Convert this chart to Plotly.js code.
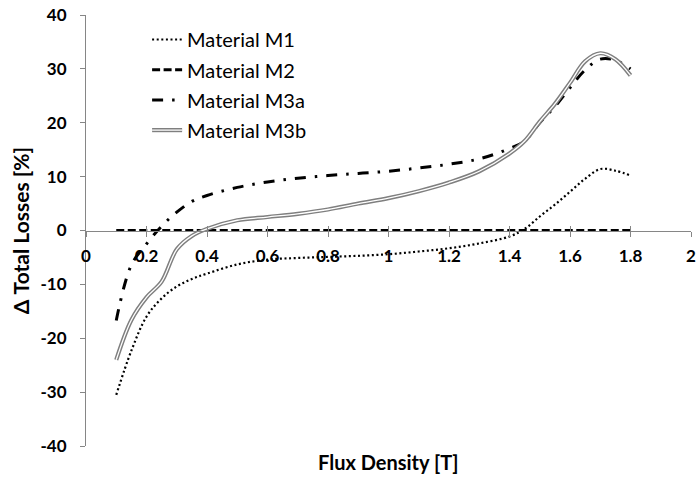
<!DOCTYPE html>
<html>
<head>
<meta charset="utf-8">
<script src="https://cdn.plot.ly/plotly-3.0.1.min.js"></script>
<style>html,body{margin:0;padding:0;background:#fff;}#chart{width:696px;height:477px;}</style>
</head>
<body>
<div id="chart"></div>
<script>
var fluxDensity = [0.1,0.15,0.2,0.25,0.3,0.35,0.4,0.5,0.6,0.7,0.8,0.9,1.0,1.1,1.2,1.3,1.4,1.45,1.5,1.55,1.6,1.65,1.7,1.75,1.8];
var materialM1  = [-30.5,-22.3,-16.0,-12.6,-10.4,-9.0,-8.0,-6.3,-5.4,-5.1,-4.9,-4.7,-4.4,-3.9,-3.3,-2.4,-1.1,0.3,2.6,4.8,7.2,9.6,11.4,11.1,10.2];
var materialM2  = [0,0,0,0,0,0,0,0,0,0,0,0,0,0,0,0,0,0,0,0,0,0,0,0,0];
var materialM3a = [-16.7,-6.4,-2.5,0.8,3.4,5.4,6.5,8.0,9.0,9.7,10.2,10.6,11.0,11.6,12.3,13.3,15.2,16.6,20.0,23.0,26.5,29.8,31.8,31.6,30.0];
var materialM3b = [-24.0,-16.6,-12.4,-9.5,-3.5,-1.0,0.3,1.9,2.5,3.1,3.9,5.0,6.0,7.3,8.9,11.0,14.3,16.6,20.2,23.5,27.4,31.4,32.9,31.8,28.8];
var seriesNames = ["Material M1","Material M2","Material M3a","Material M3b"];
var xTicks = [0,0.2,0.4,0.6,0.8,1,1.2,1.4,1.6,1.8,2];
var xTickText = ["0","0.2","0.4","0.6","0.8","1","1.2","1.4","1.6","1.8","2"];
var yTicks = [-40,-30,-20,-10,0,10,20,30,40];
var yTickText = ["-40","-30","-20","-10","0","10","20","30","40"];

var FONT = "Lato, 'Open Sans', sans-serif";
var sp = {shape:'spline', smoothing:1};

var traces = [
  {x:fluxDensity, y:materialM1, name:seriesNames[0], mode:'lines', legendgroup:'a',
   line:Object.assign({color:'#000', width:2.2, dash:'2px,2.6px'}, sp)},
  {x:fluxDensity, y:materialM2, name:seriesNames[1], mode:'lines', legendgroup:'b',
   line:{color:'#000', width:3, dash:'8px,3.5px'}},
  {x:fluxDensity, y:materialM3a, name:seriesNames[2], mode:'lines', legendgroup:'c',
   line:Object.assign({color:'#000', width:3, dash:'11px,9px,2.5px,9px'}, sp)},
  {x:fluxDensity, y:materialM3b, name:seriesNames[3], mode:'lines', legendgroup:'d',
   line:Object.assign({color:'#7f7f7f', width:4.2}, sp)},
  {x:fluxDensity, y:materialM3b, name:seriesNames[3], mode:'lines', legend:'legend2',
   line:Object.assign({color:'#fff', width:1.3}, sp)}
];

var axisColor = '#868686';
var LFS = 20;
var itemH = Math.max(LFS*1.3, 16) + 3;
var gap = 30.2 - itemH;
var legY = 1 - (20 - 15)/431;
var layout = {
  width:696, height:477,
  margin:{l:86, r:5, t:15, b:31},
  paper_bgcolor:'#fff', plot_bgcolor:'#fff',
  font:{family:FONT, color:'#000'},
  showlegend:true,
  xaxis:{range:[0,2], tickvals:xTicks, ticktext:xTickText, anchor:'free', position:0.5,
    showline:true, linecolor:axisColor, linewidth:1, ticks:'outside', ticklen:5, tickcolor:axisColor,
    showgrid:false, zeroline:false, ticklabelstandoff:5, ticklabeloverflow:'allow',
    tickfont:{family:FONT, size:17, weight:'bold', color:'#000'},
    title:{text:''}},
  xaxis2:{range:[0,2], tickvals:xTicks, overlaying:'x', anchor:'free', position:0.5,
    showline:false, ticks:'inside', ticklen:5, tickcolor:axisColor, showticklabels:false,
    showgrid:false, zeroline:false},
  yaxis:{range:[-40,40], tickvals:yTicks, ticktext:yTickText, showline:true, linecolor:axisColor, linewidth:1,
    ticks:'outside', ticklen:5, tickcolor:axisColor, showgrid:false, zeroline:false,
    ticklabelstandoff:10,
    tickfont:{family:FONT, size:17, weight:'bold', color:'#000'},
    title:{text:'\u0394 Total Losses [%]', font:{family:FONT, size:21, weight:'bold', color:'#000'}, standoff:5}},
  legend:{x:0.101, y:legY, xanchor:'left', yanchor:'top', bgcolor:'rgba(0,0,0,0)',
    traceorder:'grouped', tracegroupgap:gap,
    font:{family:FONT, size:LFS, color:'#000'}},
  legend2:{x:0.101, y:legY - 3*30.2/431, xanchor:'left', yanchor:'top', bgcolor:'rgba(0,0,0,0)',
    font:{family:FONT, size:LFS, color:'rgba(0,0,0,0)'}},
  annotations:[{text:'Flux Density [T]', xref:'paper', yref:'paper', x:0.5, y:0, yshift:-16,
    xanchor:'center', yanchor:'middle', showarrow:false,
    font:{family:FONT, size:20, weight:'bold', color:'#000'}}]
};

// second tick axis to draw the crossing tick marks
traces.push({x:[], y:[], xaxis:'x2', yaxis:'y', showlegend:false, mode:'lines', hoverinfo:'skip'});

Plotly.newPlot('chart', traces, layout, {displayModeBar:false, staticPlot:true});
</script>
</body>
</html>
